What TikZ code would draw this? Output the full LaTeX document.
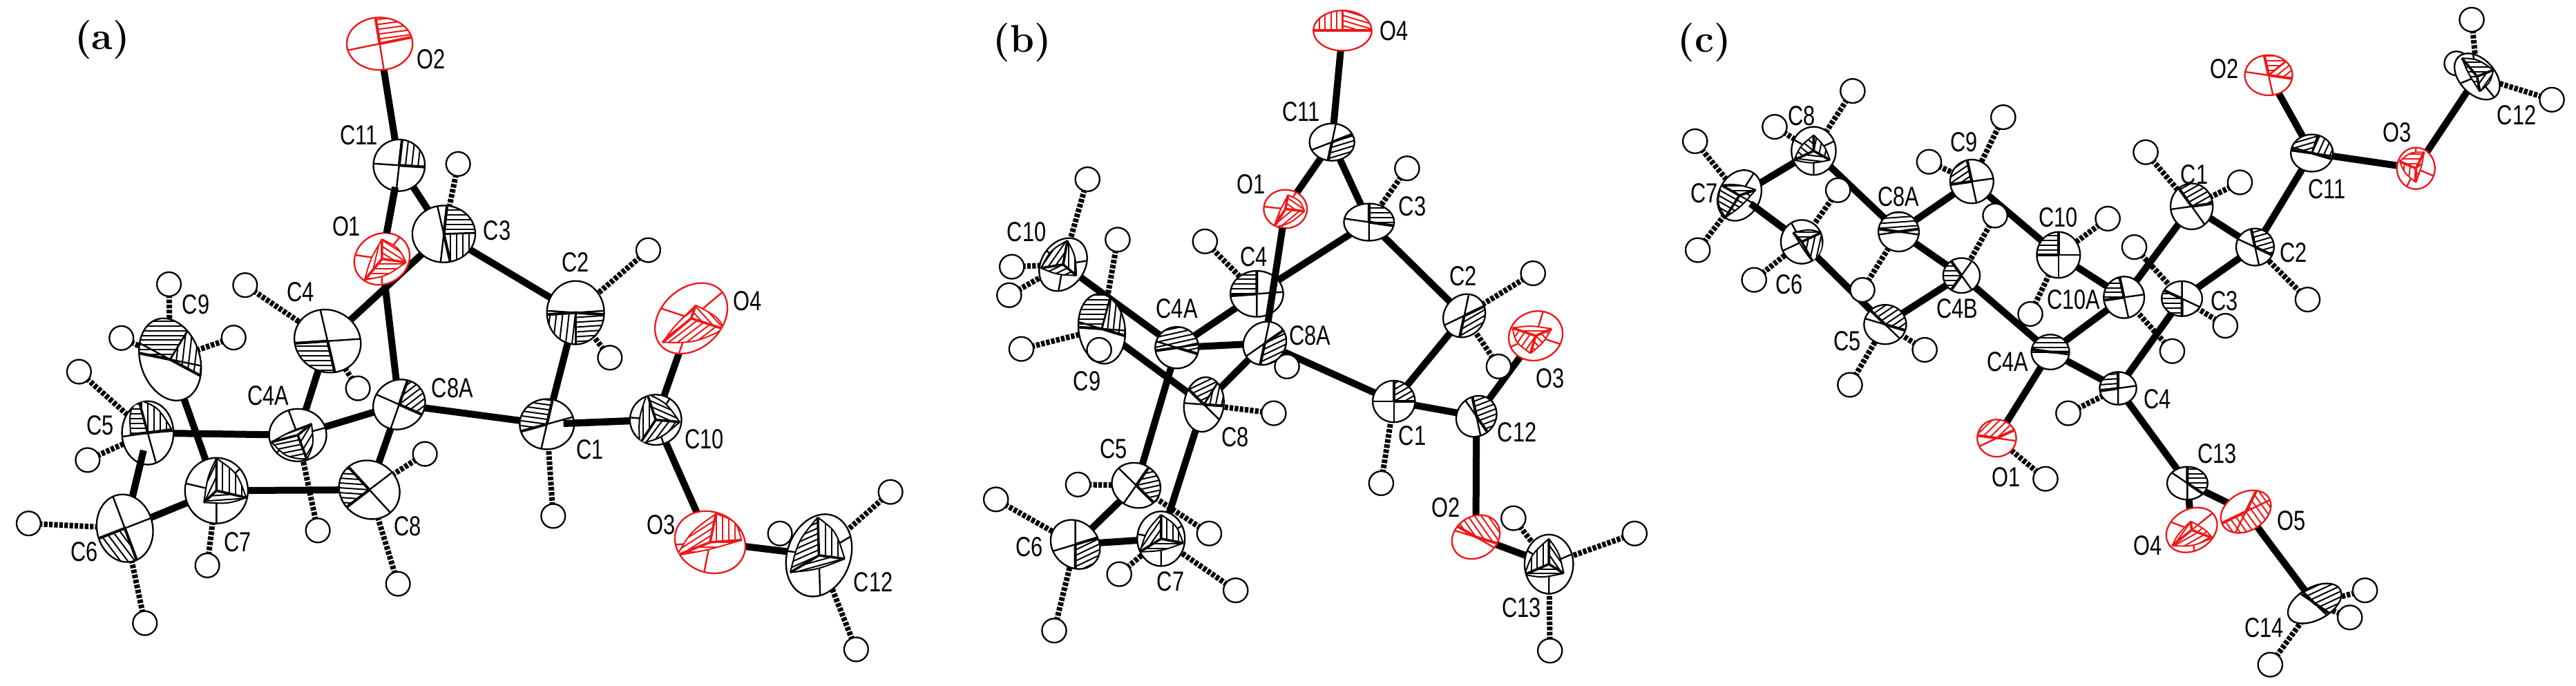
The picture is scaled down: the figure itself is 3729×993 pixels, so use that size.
\documentclass[tikz,border=0pt]{standalone}
\usepackage{fontspec}
\usetikzlibrary{shapes.geometric}
\newfontfamily\labfont[FakeStretch=0.77]{Liberation Sans}
\pgfdeclarelayer{bg}\pgfdeclarelayer{mid}\pgfdeclarelayer{fg}
\pgfsetlayers{bg,mid,main,fg}
\definecolor{oxred}{RGB}{238,24,24}
\tikzset{
 atomshape/.style={ellipse,fill=white,inner sep=0pt,outer sep=0pt,line width=.58pt,transform shape},
 hatom/.style={ellipse,draw=black,fill=white,inner sep=0pt,outer sep=0pt,line width=.58pt,transform shape},
 bondline/.style={line width=2.5pt,black},
 hbond/.style={line width=2pt,black,dash pattern=on 1.3pt off .55pt},
 lbl/.style={inner sep=0pt,font=\fontsize{10}{11}\labfont},
 tag/.style={inner sep=0pt,font=\fontsize{14}{15}\selectfont\bfseries},
}
\def\parsesec#1/#2/#3/#4\relax{\def\aone{#1}\def\atwo{#2}\def\hone{#3}\def\htwo{#4}}
\newcommand\hatchlines[2]{\foreach \d in {-154,-143,...,154}
   \draw[line width=.5pt,#2,rotate=#1] (-200,\d) -- (200,\d);}
\newcommand\hatchsec[4]{%
 \begin{scope}
  \pgfmathsetmacro\ma{#1+(#2-#1)/3}\pgfmathsetmacro\mb{#1+2*(#2-#1)/3}
  \clip (0,0) -- (#1:300) -- (\ma:300) -- (\mb:300) -- (#2:300) -- cycle;
  \hatchlines{#3}{#4}
 \end{scope}}
\newcommand\atm[8]{%
 \node[atomshape,draw=#7,minimum width=#4*.25pt,minimum height=#5*.25pt,rotate=#6] (#1) at (#2,-#3) {};
 \parsesec#8\relax
 \begin{scope}[shift={(#2,-#3)}]
  \clip[rotate=#6] (0,0) ellipse [x radius=#4/2,y radius=#5/2];
  \pgfmathsetmacro\amid{(\aone+\atwo)/2}
  \pgfmathsetmacro\aback{\aone+180}\pgfmathsetmacro\bback{\atwo+180}
  \draw[line width=.6pt,#7] (0,0) -- (\aback:200) (0,0) -- (\bback:200);
  \ifnum\hone=\htwo\relax
   \hatchsec{\aone}{\atwo}{\hone}{#7}
  \else
   \hatchsec{\aone}{\amid}{\hone}{#7}
   \hatchsec{\amid}{\atwo}{\htwo}{#7}
   \draw[line width=.7pt,#7] (0,0) -- (\amid:200);
  \fi
  \draw[line width=1pt,#7] (0,0) -- (\aone:200) (0,0) -- (\atwo:200);
 \end{scope}}
% octant drawn as a curved triangle with three hatched parts
\def\parsetri#1/#2/#3/#4/#5/#6/#7/#8/#9\relax{\def\pxa{#1}\def\pya{#2}\def\pxb{#3}\def\pyb{#4}\def\pxc{#5}\def\pyc{#6}\def\hha{#7}\def\hhb{#8}\def\hhc{#9}}
\newcommand\triedge[5]{(0,0) -- (#1,#2) .. controls ({.7*(#1+#3)},{.7*(#2+#4)}) .. (#3,#4) -- cycle}
\newcommand\hatchtri[6]{%
 \begin{scope}
  \clip \triedge{#1}{#2}{#3}{#4}{};
  \hatchlines{#5}{#6}
 \end{scope}
 \draw[line width=.5pt,#6] (#1,#2) .. controls ({.7*(#1+#3)},{.7*(#2+#4)}) .. (#3,#4);}
\newcommand\tat[8]{%
 \node[atomshape,draw=#7,minimum width=#4*.25pt,minimum height=#5*.25pt,rotate=#6] (#1) at (#2,-#3) {};
 \parsetri#8\relax
 \begin{scope}[shift={(#2,-#3)}]
  \clip[rotate=#6] (0,0) ellipse [x radius=#4/2,y radius=#5/2];
  \draw[line width=.6pt,#7] (0,0) -- ({-4*\pxa},{-4*\pya}) (0,0) -- ({-4*\pxb},{-4*\pyb}) (0,0) -- ({-4*\pxc},{-4*\pyc});
  \fill[white] \triedge{\pxa}{\pya}{\pxb}{\pyb}{};
  \fill[white] \triedge{\pxb}{\pyb}{\pxc}{\pyc}{};
  \fill[white] \triedge{\pxc}{\pyc}{\pxa}{\pya}{};
  \hatchtri{\pxa}{\pya}{\pxb}{\pyb}{\hha}{#7}
  \hatchtri{\pxb}{\pyb}{\pxc}{\pyc}{\hhb}{#7}
  \hatchtri{\pxc}{\pyc}{\pxa}{\pya}{\hhc}{#7}
  \draw[line width=.9pt,#7] (0,0) -- (\pxa,\pya) (0,0) -- (\pxb,\pyb) (0,0) -- (\pxc,\pyc);
 \end{scope}}
\newcommand\Cat[7]{\atm{#1}{#2}{#3}{#4}{#5}{#6}{black}{#7}}
\newcommand\Oat[7]{\atm{#1}{#2}{#3}{#4}{#5}{#6}{oxred}{#7}}
\newcommand\CT[7]{\tat{#1}{#2}{#3}{#4}{#5}{#6}{black}{#7}}
\newcommand\OT[7]{\tat{#1}{#2}{#3}{#4}{#5}{#6}{oxred}{#7}}
\newcommand\hyd[4]{%
 \begin{pgfonlayer}{mid}
  \node[hatom,minimum width=\hw*.25pt,minimum height=\hh*.25pt] (#1) at (#2,-#3) {};
 \end{pgfonlayer}
 \begin{pgfonlayer}{bg}
  \draw[hbond] (#1.center) -- (#4.center);
 \end{pgfonlayer}}
\newcommand\bonds[1]{%
 \begin{pgfonlayer}{bg}
  \foreach \p/\q in {#1} \draw[bondline] (\p.center) -- (\q.center);
 \end{pgfonlayer}}
\newcommand\fbond[2]{%
 \begin{pgfonlayer}{fg}
  \draw[bondline] (#1) -- (#2);
 \end{pgfonlayer}}
\newcommand\fbondin[3]{%
 \begin{pgfonlayer}{fg}
  \draw[bondline,shorten >=#3] (#1) -- (#2.center);
 \end{pgfonlayer}}
\newcommand\lab[3]{\node[lbl] (\pn-#3) at (#1,-#2) {#3};}
\begin{document}
\begin{tikzpicture}[x=.25pt,y=.25pt]
\useasboundingbox (0,0) rectangle (3729,-993);
\begin{pgfonlayer}{bg}
\fill[white] (0,0) rectangle (3729,-993);
\end{pgfonlayer}
\node[tag] (taga) at (148,-58) {(a)};
\node[tag] (tagb) at (1480,-62) {(b)};
\node[tag] (tagc) at (2467,-62) {(c)};
%---------------- panel a
\begin{scope}[xscale=.829,yscale=.633]
\def\pn{a}\def\hw{42}\def\hh{55}
\Oat{aO2}{663}{100}{115}{120}{0}{15/97/10/10}
\Cat{aC11}{697}{378}{90}{118}{0}{-5/85/85/85}
\Cat{aC3}{775}{535}{110}{130}{0}{-80/85/90/0}
\OT{aO1}{667}{592}{95}{120}{-15}{0/45/42/-8/-30/-48/-40/0/80}
\Cat{aC4}{572}{780}{115}{145}{10}{185/280/0/0}
\Cat{aC2}{1005}{715}{100}{145}{0}{185/355/85/5}
\CT{aC5}{258}{990}{90}{145}{0}{-16/76/42/8/-30/-3/90/0/0}
\Cat{aC9}{297}{822}{105}{190}{10}{-35/165/85/0}
\CT{aC4A}{520}{995}{100}{120}{0}{24/26/-46/-16/16/-56/25/15/65}
\Cat{aC8A}{697}{925}{90}{115}{-10}{-30/75/45/45}
\Cat{aC1}{955}{970}{95}{115}{0}{80/200/-10/-10}
\CT{aC10}{1145}{960}{90}{115}{0}{-15/60/42/-5/-28/-55/-30/60/90}
\OT{aO4}{1207}{728}{115}{170}{-25}{8/30/58/-25/-50/-55/-55/45/45}
\OT{aO3}{1240}{1240}{120}{145}{20}{10/65/55/5/-58/-30/90/0/40}
\CT{aC12}{1430}{1270}{112}{190}{-10}{-2/87/45/-8/-50/-39/90/20/30}
\CT{aC7}{378}{1122}{110}{150}{0}{0/74/52/-16/-22/-27/90/5/70}
\Cat{aC8}{645}{1120}{105}{135}{10}{125/225/-5/-5}
\Cat{aC6}{218}{1208}{98}{155}{5}{207/286/-60/-60}
\bonds{aO2/aC11,aC11/aO1,aC11/aC3,aC4/aC3,aO1/aC8A,aC3/aC2,aC2/aC1,aC1/aC8A,aC1/aC10,aC10/aO4,aC10/aO3,aO3/aC12,aC8A/aC4A,aC8A/aC8,aC4A/aC4,aC4A/aC5,aC8/aC7,aC7/aC6,aC6/aC5,aC7/aC9}
\fbondin{aC6}{aC5}{6.5pt}
\fbondin{aC10}{aC1}{6pt}
\fbondin{aO1}{aC11}{8pt}
\hyd{aH3}{800}{375}{aC3}
\hyd{aH2a}{1132}{572}{aC2}
\hyd{aH2b}{1065}{818}{aC2}
\hyd{aH1}{966}{1180}{aC1}
\hyd{aH4a}{428}{652}{aC4}
\hyd{aH4b}{625}{888}{aC4}
\hyd{aH9a}{295}{650}{aC9}
\hyd{aH9b}{408}{772}{aC9}
\hyd{aH9c}{212}{773}{aC9}
\hyd{aH5a}{138}{850}{aC5}
\hyd{aH5b}{153}{1052}{aC5}
\hyd{aH6a}{50}{1197}{aC6}
\hyd{aH6b}{253}{1425}{aC6}
\hyd{aH7}{362}{1293}{aC7}
\hyd{aH4A}{555}{1213}{aC4A}
\hyd{aH8a}{742}{1038}{aC8}
\hyd{aH8b}{695}{1335}{aC8}
\hyd{aH12a}{1555}{1125}{aC12}
\hyd{aH12b}{1362}{1220}{aC12}
\hyd{aH12c}{1495}{1485}{aC12}
\begin{pgfonlayer}{fg}
\lab{753}{135}{O2}\lab{627}{310}{C11}\lab{605}{518}{O1}\lab{868}{527}{C3}\lab{1005}{600}{C2}\lab{525}{668}{C4}\lab{342}{697}{C9}\lab{1305}{688}{O4}\lab{468}{905}{C4A}\lab{790}{888}{C8A}\lab{175}{973}{C5}\lab{1230}{1005}{C10}\lab{1030}{1028}{C1}\lab{415}{1240}{C7}\lab{147}{1262}{C6}\lab{712}{1203}{C8}\lab{1155}{1200}{O3}\lab{1525}{1332}{C12}
\end{pgfonlayer}
\end{scope}
%---------------- panel b
\begin{scope}[shift={(1300,0)},xscale=.766,yscale=.633]
\def\pn{b}\def\hw{46}\def\hh{55}
\Oat{bO4}{840}{70}{110}{92}{0}{0/180/-20/90}
\Cat{bC11}{820}{325}{85}{85}{0}{-100/25/20/20}
\OT{bO1}{732}{478}{82}{88}{0}{5/32/36/-5/-22/-42/-40/45/85}
\Cat{bC3}{890}{508}{95}{85}{0}{-10/90/0/0}
\Cat{bC4}{678}{672}{100}{105}{0}{90/185/0/0}
\Cat{bC2}{1070}{722}{78}{100}{-15}{-100/30/35/35}
\OT{bO3}{1205}{768}{100}{115}{-20}{-44/18/30/16/-10/-40/0/-50/60}
\CT{bC10}{312}{605}{85}{125}{-20}{8/55/25/-25/-42/-8/90/30/60}
\Cat{bC9}{385}{752}{88}{160}{5}{-20/175/85/0}
\Cat{bC4A}{527}{795}{82}{95}{0}{-20/190/15/15}
\Cat{bC8A}{693}{785}{80}{100}{-15}{-100/40/30/30}
\Cat{bC1}{937}{918}{80}{95}{0}{0/90/35/35}
\Cat{bC12}{1093}{952}{75}{95}{-15}{-60/100/25/25}
\Cat{bC8}{578}{925}{75}{125}{-5}{-5/130/80/30}
\Cat{bC5}{450}{1110}{90}{105}{20}{-50/60/15/15}
\Cat{bC6}{335}{1245}{90}{115}{20}{-90/20/30/30}
\CT{bC7}{497}{1232}{90}{125}{0}{0/55/42/-10/-40/-30/90/0/60}
\Oat{bO2}{1092}{1228}{85}{105}{-30}{-20/145/-60/-60}
\CT{bC13}{1230}{1290}{92}{135}{0}{0/58/28/-21/-46/-24/-60/0/90}
\bonds{bO4/bC11,bC11/bO1,bC11/bC3,bC3/bC2,bC3/bC4,bC2/bC1,bC1/bC8A,bC1/bC12,bC12/bO3,bC12/bO2,bO2/bC13,bC4/bC4A,bC4A/bC8A,bC4A/bC10,bC9/bC8,bC8A/bC8,bC4A/bC5,bC8/bC7,bC5/bC6,bC6/bC7}
\fbond{bO1}{bC8A}
\hyd{bH10a}{358}{410}{bC10}
\hyd{bH10b}{215}{610}{bC10}
\hyd{bH10c}{210}{675}{bC10}
\hyd{bH9a}{415}{548}{bC9}
\hyd{bH9b}{233}{798}{bC9}
\hyd{bH4}{580}{552}{bC4}
\hyd{bH3}{962}{385}{bC3}
\hyd{bH2a}{1200}{625}{bC2}
\hyd{bH2b}{1135}{838}{bC2}
\hyd{bH4A}{735}{838}{bC8A}
\hyd{bH8}{710}{945}{bC8}
\hyd{bH1}{913}{1105}{bC1}
\hyd{bH5a}{340}{1108}{bC5}
\hyd{bH5b}{588}{1220}{bC5}
\hyd{bH6a}{185}{1142}{bC6}
\hyd{bH6b}{295}{1442}{bC6}
\hyd{bH7a}{418}{1313}{bC7}
\hyd{bH7b}{638}{1350}{bC7}
\hyd{bH13a}{1163}{1185}{bC13}
\hyd{bH13b}{1392}{1220}{bC13}
\hyd{bH13c}{1232}{1488}{bC13}
\begin{pgfonlayer}{fg}
\node[hatom,fill=none,minimum width=46*.25pt,minimum height=55*.25pt] (bH9c) at (380,-800) {};
\lab{938}{70}{O4}\lab{762}{255}{C11}\lab{667}{422}{O1}\lab{972}{472}{C3}\lab{243}{530}{C10}\lab{672}{587}{C4}\lab{1068}{632}{C2}\lab{527}{705}{C4A}\lab{778}{768}{C8A}\lab{1232}{865}{O3}\lab{357}{872}{C9}\lab{637}{1000}{C8}\lab{972}{997}{C1}\lab{1170}{988}{C12}\lab{407}{1027}{C5}\lab{1035}{1160}{O2}\lab{248}{1250}{C6}\lab{515}{1330}{C7}\lab{1178}{1390}{C13}
\end{pgfonlayer}
\end{scope}
%---------------- panel c
\begin{scope}[shift={(2500,0)},xscale=.784,yscale=.633]
\def\pn{c}\def\hw{45}\def\hh{55}
\CT{cC7}{23}{447}{78}{118}{-15}{30/13/-34/24/-26/-50/0/-35/-35}
\CT{cC8}{160}{345}{82}{110}{0}{0/36/30/-21/-36/-21/80/-8/-45}
\CT{cC6}{138}{553}{77}{100}{0}{-16/21/36/21/21/-47/0/80/-60}
\Cat{cC9}{452}{415}{80}{100}{0}{100/190/40/40}
\Cat{cC8A}{317}{530}{75}{90}{0}{10/170/5/5}
\Cat{cC10}{612}{583}{80}{105}{0}{90/180/0/0}
\Cat{cC1}{858}{472}{78}{105}{0}{10/120/35/35}
\Cat{cC2}{975}{565}{70}{85}{0}{-30/100/20/20}
\Cat{cC11}{1080}{350}{78}{85}{0}{-20/170/70/20}
\OT{cO3}{1272}{385}{70}{95}{0}{15/37/-30/16/0/-32/0/85/45}
\CT{cC12}{1385}{175}{70}{115}{30}{-28/42/30/15/5/-34/0/60/0}
\Oat{cO2}{1000}{172}{88}{92}{0}{-10/100/45/0}
\Cat{cC10A}{733}{680}{75}{95}{0}{100/190/0/0}
\Cat{cC3}{840}{683}{75}{80}{0}{150/270/0/0}
\Cat{cC4B}{433}{630}{68}{80}{0}{120/240/0/0}
\Cat{cC5}{292}{742}{78}{90}{0}{-20/130/40/40}
\Cat{cC4A}{597}{805}{70}{80}{0}{0/170/0/0}
\Cat{cC4}{722}{888}{68}{75}{0}{90/190/5/5}
\Oat{cO1}{498}{1002}{72}{85}{0}{30/170/50/50}
\Cat{cC13}{850}{1105}{75}{75}{0}{-40/90/0/0}
\OT{cO4}{858}{1212}{85}{110}{-35}{-2/20/38/-18/-36/-36/45/35/60}
\Oat{cO5}{958}{1170}{80}{108}{-40}{211/428/-60/-60}
\Cat{cC14}{1085}{1380}{70}{115}{-50}{-40/130/30/30}
\bonds{cC7/cC8,cC7/cC6,cC8/cC8A,cC8A/cC9,cC8A/cC4B,cC9/cC10,cC10/cC10A,cC6/cC5,cC5/cC4B,cC4B/cC4A,cC4A/cC10A,cC4A/cC4,cC4A/cO1,cC4/cC3,cC4/cC13,cC3/cC2,cC2/cC1,cC2/cC11,cC1/cC10A,cC11/cO2,cC11/cO3,cO3/cC12,cC13/cO4,cC13/cO5,cO5/cC14}
\fbondin{cC6}{cC7}{5pt}
\hyd{cH8a}{232}{208}{cC8}
\hyd{cH8b}{88}{290}{cC8}
\hyd{cH7a}{-59}{323}{cC7}
\hyd{cH7b}{-54}{572}{cC7}
\hyd{cH6a}{205}{435}{cC6}
\hyd{cH6b}{50}{640}{cC6}
\hyd{cH9a}{510}{268}{cC9}
\hyd{cH9b}{373}{370}{cC9}
\hyd{cH10a}{703}{500}{cC10}
\hyd{cH10b}{560}{718}{cC10}
\hyd{cH4B}{495}{493}{cC4B}
\hyd{cH8A}{250}{663}{cC8A}
\hyd{cH1a}{773}{348}{cC1}
\hyd{cH1b}{947}{417}{cC1}
\hyd{cH3a}{752}{565}{cC3}
\hyd{cH10A}{822}{803}{cC10A}
\hyd{cH3b}{920}{745}{cC3}
\hyd{cH2}{1072}{685}{cC2}
\hyd{cH5a}{365}{800}{cC5}
\hyd{cH5b}{227}{880}{cC5}
\hyd{cH4}{630}{945}{cC4}
\hyd{cHO}{588}{1095}{cO1}
\hyd{cH12a}{1375}{45}{cC12}
\hyd{cH12b}{1347}{145}{cC12}
\hyd{cH12c}{1523}{228}{cC12}
\hyd{cH14a}{1178}{1350}{cC14}
\hyd{cH14b}{1150}{1412}{cC14}
\hyd{cH14c}{1003}{1520}{cC14}
\begin{pgfonlayer}{fg}
\lab{-42}{442}{C7}\lab{918}{157}{O2}\lab{1237}{303}{O3}\lab{138}{265}{C8}\lab{438}{325}{C9}\lab{863}{400}{C1}\lab{1108}{433}{C11}\lab{317}{450}{C8A}\lab{612}{497}{C10}\lab{1458}{263}{C12}\lab{1046}{578}{C2}\lab{115}{650}{C6}\lab{640}{685}{C10A}\lab{918}{688}{C3}\lab{425}{705}{C4B}\lab{222}{780}{C5}\lab{518}{828}{C4A}\lab{795}{913}{C4}\lab{905}{1037}{C13}\lab{515}{1092}{O1}\lab{1042}{1190}{O5}\lab{777}{1248}{O4}\lab{992}{1435}{C14}
\end{pgfonlayer}
\end{scope}
\end{tikzpicture}
\end{document}
